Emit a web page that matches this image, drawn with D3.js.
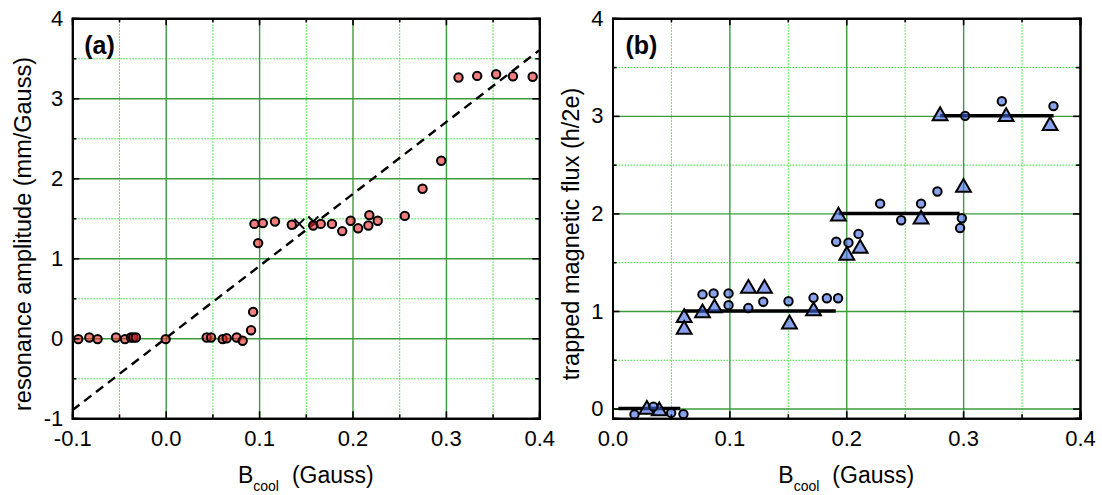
<!DOCTYPE html>
<html>
<head>
<meta charset="utf-8">
<script src="https://cdn.jsdelivr.net/npm/d3@7"></script>
<style>
  html, body { margin: 0; padding: 0; background: #fff; }
  svg { display: block; font-family: "Liberation Sans", Arial, sans-serif; }
</style>
</head>
<body>
<svg id="chart" width="1102" height="495"></svg>
<script>
// ---- Panel (a): resonance amplitude vs cooling field ----
const aCircX = [-0.0936, -0.0818, -0.0729, -0.0532, -0.0436, -0.0372, -0.0347, -0.0319, 0.000,
                0.0439, 0.0486, 0.0610, 0.0653, 0.0760, 0.0824, 0.0914, 0.0936,
                0.095, 0.104, 0.099, 0.117, 0.135, 0.158, 0.166, 0.178, 0.189, 0.198,
                0.206, 0.217, 0.218, 0.227, 0.256, 0.275, 0.295, 0.3135, 0.3335, 0.3538, 0.3718, 0.3929];
const aCircY = [-0.01, 0.01, -0.01, 0.01, -0.01, 0.01, 0.01, 0.01, -0.01,
                0.01, 0.01, -0.01, 0.0, 0.01, -0.03, 0.10, 0.33,
                1.43, 1.44, 1.19, 1.46, 1.42, 1.41, 1.43, 1.43, 1.34, 1.47,
                1.375, 1.41, 1.54, 1.47, 1.53, 1.87, 2.22, 3.26, 3.28, 3.30, 3.275, 3.27];
const aCrossX = [0.143, 0.158];
const aCrossY = [1.43, 1.46];
const aSlope = 9;              // dashed reference line: amplitude = 9 * B
const aLineX = [-0.1, 0.4];

const aXTicks = [-0.1, 0.0, 0.1, 0.2, 0.3, 0.4];
const aXLabels = ["-0.1", "0.0", "0.1", "0.2", "0.3", "0.4"];
const aYTicks = [-1, 0, 1, 2, 3, 4];
const aYLabels = ["-1", "0", "1", "2", "3", "4"];
const aXMinor = [-0.05, 0.05, 0.15, 0.25, 0.35];
const aYMinor = [-0.5, 0.5, 1.5, 2.5, 3.5];

// ---- Panel (b): trapped magnetic flux vs cooling field ----
const bCircX = [0.0188, 0.035, 0.0502, 0.0607,
                0.077, 0.0865, 0.0993, 0.0993, 0.1162, 0.129, 0.1506, 0.172, 0.1834, 0.193,
                0.1914, 0.2019, 0.2105,
                0.229, 0.247, 0.264, 0.278, 0.2989, 0.2974,
                0.3017, 0.3331, 0.3773];
const bCircY = [-0.06, 0.02, -0.045, -0.057,
                1.17, 1.18, 1.18, 1.06, 1.03, 1.095, 1.10, 1.135, 1.13, 1.13,
                1.71, 1.70, 1.79,
                2.10, 1.93, 2.10, 2.225, 1.95, 1.85,
                3.0, 3.15, 3.10];
const bTriX = [0.0294, 0.040,
               0.0613, 0.0613, 0.077, 0.0873, 0.1163, 0.130, 0.1514, 0.172,
               0.1933, 0.2005, 0.2119, 0.264, 0.3003,
               0.2803, 0.3368, 0.3744];
const bTriY = [-0.01, -0.025,
               0.93, 0.81, 0.98, 1.03, 1.23, 1.23, 0.865, 1.0,
               1.97, 1.57, 1.64, 1.94, 2.265,
               3.0, 2.99, 2.90];
// flux plateaus (integer flux quanta) and their field ranges
const bStepN = [0, 1, 2, 3];
const bStepFrom = [0.005, 0.061, 0.1935, 0.2803];
const bStepTo = [0.058, 0.191, 0.297, 0.3774];

const bXTicks = [0.0, 0.1, 0.2, 0.3, 0.4];
const bXLabels = ["0.0", "0.1", "0.2", "0.3", "0.4"];
const bYTicks = [0, 1, 2, 3, 4];
const bYLabels = ["0", "1", "2", "3", "4"];
const bXMinor = [0.05, 0.15, 0.25, 0.35];
const bYMinor = [0.5, 1.5, 2.5, 3.5];

// ---- drawing ----
const svg = d3.select("#chart");
const TOP = 18.3, BOTTOM = 418.3;
const RED = "rgba(232,40,40,0.6)";
const BLUE = "rgba(60,100,225,0.6)";

function panel(opts) {
  const x = d3.scaleLinear().domain(opts.xDomain).range(opts.xRange);
  const y = d3.scaleLinear().domain(opts.yDomain).range([BOTTOM, TOP]);
  const W = opts.xRange[1] - opts.xRange[0];
  const H = BOTTOM - TOP;
  const g = svg.append("g");

  // minor grid (dotted)
  const minorV = g.append("g").attr("transform", `translate(0,${TOP})`)
    .call(d3.axisBottom(x).tickValues(opts.xMinor).tickSize(H).tickFormat(""));
  const minorH = g.append("g").attr("transform", `translate(${opts.xRange[0]},0)`)
    .call(d3.axisRight(y).tickValues(opts.yMinor).tickSize(W).tickFormat(""));
  [minorV, minorH].forEach(s => {
    s.select(".domain").remove();
    s.selectAll("line").attr("stroke", "#2ee02e").attr("stroke-width", 1)
      .attr("stroke-dasharray", "1.5,1.5");
  });
  // major grid (solid)
  const majV = g.append("g").attr("transform", `translate(0,${TOP})`)
    .call(d3.axisBottom(x).tickValues(opts.xTicks).tickSize(H).tickFormat(""));
  const majH = g.append("g").attr("transform", `translate(${opts.xRange[0]},0)`)
    .call(d3.axisRight(y).tickValues(opts.yTicks).tickSize(W).tickFormat(""));
  [majV, majH].forEach(s => {
    s.select(".domain").remove();
    s.selectAll("line").attr("stroke", "rgb(60,155,60)").attr("stroke-width", 1.4);
  });

  opts.draw(g, x, y);

  // frame with inward ticks on all four sides
  const fmtX = d => opts.xLabels[opts.xTicks.indexOf(d)];
  const fmtY = d => opts.yLabels[opts.yTicks.indexOf(d)];
  const axes = [];
  axes.push(g.append("g").attr("transform", `translate(0,${BOTTOM})`)
    .call(d3.axisBottom(x).tickValues(opts.xTicks).tickSize(-7).tickPadding(12).tickFormat(fmtX)));
  axes.push(g.append("g").attr("transform", `translate(0,${TOP})`)
    .call(d3.axisTop(x).tickValues(opts.xTicks).tickSize(-7).tickFormat("")));
  axes.push(g.append("g").attr("transform", `translate(${opts.xRange[0]},0)`)
    .call(d3.axisLeft(y).tickValues(opts.yTicks).tickSize(-7).tickPadding(9).tickFormat(fmtY)));
  axes.push(g.append("g").attr("transform", `translate(${opts.xRange[1]},0)`)
    .call(d3.axisRight(y).tickValues(opts.yTicks).tickSize(-7).tickFormat("")));
  // minor ticks
  axes.push(g.append("g").attr("transform", `translate(0,${BOTTOM})`)
    .call(d3.axisBottom(x).tickValues(opts.xMinor).tickSize(-4).tickFormat("")));
  axes.push(g.append("g").attr("transform", `translate(0,${TOP})`)
    .call(d3.axisTop(x).tickValues(opts.xMinor).tickSize(-4).tickFormat("")));
  axes.push(g.append("g").attr("transform", `translate(${opts.xRange[0]},0)`)
    .call(d3.axisLeft(y).tickValues(opts.yMinor).tickSize(-4).tickFormat("")));
  axes.push(g.append("g").attr("transform", `translate(${opts.xRange[1]},0)`)
    .call(d3.axisRight(y).tickValues(opts.yMinor).tickSize(-4).tickFormat("")));
  axes.forEach(s => {
    s.select(".domain").attr("stroke", "#000").attr("stroke-width", 2);
    s.selectAll("line").attr("stroke", "#000").attr("stroke-width", 1.6);
    s.selectAll("text").attr("font-size", 22).attr("fill", "#000")
      .attr("font-family", "'Liberation Sans', Arial, sans-serif");
  });

  // panel tag
  g.append("text").attr("x", opts.xRange[0] + opts.tagDx).attr("y", 54)
    .attr("font-size", 25).attr("font-weight", "bold").text(opts.tag);

  // x title with subscript
  const xt = g.append("text").attr("x", (opts.xRange[0] + opts.xRange[1]) / 2).attr("y", 483)
    .attr("text-anchor", "middle").attr("font-size", 23);
  xt.append("tspan").text("B");
  xt.append("tspan").attr("font-size", 14).attr("dy", 8).text("cool");
  xt.append("tspan").attr("dy", -8).attr("dx", 13).text("(Gauss)");

  // y title
  g.append("text")
    .attr("transform", `translate(${opts.yTitleX},${opts.yTitleY}) rotate(-90)`)
    .attr("text-anchor", "middle").attr("dy", "0.35em")
    .attr("font-size", opts.yTitleSize).text(opts.yTitle);
}

panel({
  xDomain: [-0.1, 0.4], xRange: [72.3, 539.3], yDomain: [-1, 4],
  xTicks: aXTicks, xLabels: aXLabels, yTicks: aYTicks, yLabels: aYLabels,
  xMinor: aXMinor, yMinor: aYMinor,
  tag: "(a)", tagDx: 12,
  yTitle: "resonance amplitude (mm/Gauss)", yTitleX: 23, yTitleY: 234, yTitleSize: 23.5,
  draw: (g, x, y) => {
    g.append("line")
      .attr("x1", x(aLineX[0])).attr("y1", y(aSlope * aLineX[0]))
      .attr("x2", x(aLineX[1])).attr("y2", y(aSlope * aLineX[1]))
      .attr("stroke", "#000").attr("stroke-width", 2.4).attr("stroke-dasharray", "9,6");
    g.selectAll(".xm").data(aCrossX).join("path")
      .attr("d", (d, i) => {
        const cx = x(d), cy = y(aCrossY[i]), s = 5;
        return `M${cx - s},${cy - s}L${cx + s},${cy + s}M${cx - s},${cy + s}L${cx + s},${cy - s}`;
      })
      .attr("stroke", "#000").attr("stroke-width", 2).attr("fill", "none");
    g.selectAll(".ac").data(aCircX).join("circle")
      .attr("cx", d => x(d)).attr("cy", (d, i) => y(aCircY[i])).attr("r", 4.2)
      .attr("fill", RED).attr("stroke", "#000").attr("stroke-width", 2);
  }
});

panel({
  xDomain: [0, 0.4], xRange: [612.5, 1080], yDomain: [-0.1, 4],
  xTicks: bXTicks, xLabels: bXLabels, yTicks: bYTicks, yLabels: bYLabels,
  xMinor: bXMinor, yMinor: bYMinor,
  tag: "(b)", tagDx: 13,
  yTitle: "trapped magnetic flux (h/2e)", yTitleX: 571, yTitleY: 234, yTitleSize: 23.5,
  draw: (g, x, y) => {
    g.selectAll(".step").data(bStepN).join("line")
      .attr("x1", (d, i) => x(bStepFrom[i])).attr("x2", (d, i) => x(bStepTo[i]))
      .attr("y1", d => y(d)).attr("y2", d => y(d))
      .attr("stroke", "#000").attr("stroke-width", 3.5);
    g.selectAll(".bt").data(bTriX).join("path")
      .attr("transform", (d, i) => `translate(${x(d)},${y(bTriY[i])})`)
      .attr("d", d3.symbol(d3.symbolTriangle, 95))
      .attr("fill", BLUE).attr("stroke", "#000").attr("stroke-width", 2)
      .attr("stroke-linejoin", "miter");
    g.selectAll(".bc").data(bCircX).join("circle")
      .attr("cx", d => x(d)).attr("cy", (d, i) => y(bCircY[i])).attr("r", 4.2)
      .attr("fill", BLUE).attr("stroke", "#000").attr("stroke-width", 2);
  }
});
</script>
</body>
</html>
